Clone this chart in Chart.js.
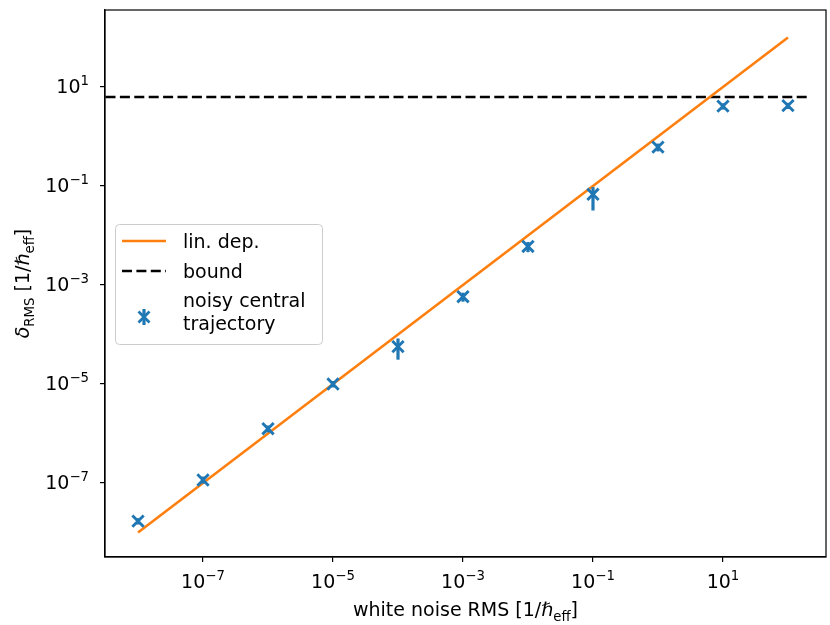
<!DOCTYPE html>
<html><head><meta charset="utf-8">
<script src="https://cdn.jsdelivr.net/npm/chart.js@4"></script>
<style>html,body{margin:0;padding:0;background:#fff}#wrap{width:830px;height:625px}</style>
</head><body><div id="wrap"><canvas id="c" width="830" height="625"></canvas></div>
<script>
// ---- data ----
const noiseRMS  = [1e-8, 1e-7, 1e-6, 1e-5, 1e-4, 1e-3, 1e-2, 1e-1, 1e0, 1e1, 1e2];
const deltaRMS  = [1.7e-8, 1.15e-7, 1.25e-6, 1.0e-5, 5.7e-5, 5.8e-4, 6.0e-3, 0.068, 0.61, 4.1, 4.2];
const deltaLow  = [1.45e-8, 0.97e-7, 1.05e-6, 0.85e-5, 3.1e-5, 4.6e-4, 4.6e-3, 0.032, 0.50, 3.5, 3.6];
const deltaHigh = [1.95e-8, 1.35e-7, 1.45e-6, 1.15e-5, 8.3e-5, 7.0e-4, 7.4e-3, 0.095, 0.72, 4.7, 4.8];
const linX = [1e-8, 1e2];
const linY = [1e-8, 1e2];
const boundX = [3.16e-9, 2.0e2];
const boundY = [6.28, 6.28];
const xTicks = [1e-7, 1e-5, 1e-3, 1e-1, 1e1];
const yTicks = [1e-7, 1e-5, 1e-3, 1e-1, 1e1];
const xTickExp = ['\u22127', '\u22125', '\u22123', '\u22121', '1'];
const yTickExp = ['\u22127', '\u22125', '\u22123', '\u22121', '1'];
const labels = ['lin. dep.', 'bound', 'noisy central\ntrajectory'];

const FONT = "'DejaVu Sans', sans-serif";
const FS = 19;
const BLUE = '#1f77b4', ORANGE = '#ff7f0e';

function toPts(xs, ys){ return xs.map((v,i)=>({x:v, y:ys[i]})); }

function measureParts(ctx, parts){
  let w = 0;
  parts.forEach(p=>{
    const sz = p.s ? FS*0.7 : FS;
    ctx.font = (p.it?'italic ':'') + sz + 'px ' + FONT;
    p.w = ctx.measureText(p.t).width; w += p.w;
  });
  return w;
}
function drawParts(ctx, parts, x, y){
  let cx = x;
  parts.forEach(p=>{
    const sz = p.s ? FS*0.7 : FS;
    ctx.font = (p.it?'italic ':'') + sz + 'px ' + FONT;
    const dy = p.s === 1 ? -8 : (p.s === -1 ? 4.5 : 0);
    ctx.textAlign = 'left'; ctx.textBaseline = 'alphabetic';
    ctx.fillText(p.t, cx, y + dy);
    cx += p.w;
  });
}

const errPlugin = {
  id: 'errbars',
  beforeDatasetDraw(chart, args){
    if (args.index !== 2) return;
    const {ctx, scales:{x, y}} = chart;
    ctx.save();
    ctx.strokeStyle = BLUE; ctx.lineWidth = 3.2; ctx.lineCap = 'butt';
    noiseRMS.forEach((v,i)=>{
      const px = x.getPixelForValue(v);
      ctx.beginPath();
      ctx.moveTo(px, y.getPixelForValue(deltaLow[i]));
      ctx.lineTo(px, y.getPixelForValue(deltaHigh[i]));
      ctx.stroke();
    });
    ctx.restore();
  }
};

const decoPlugin = {
  id: 'deco',
  afterDraw(chart){
    const {ctx, chartArea:a, scales:{x, y}} = chart;
    ctx.save();
    ctx.strokeStyle = '#000'; ctx.lineWidth = 1.2;
    ctx.strokeRect(a.left, a.top, a.right - a.left, a.bottom - a.top);
    ctx.fillStyle = '#000';
    xTicks.forEach((v,i)=>{
      const parts = [{t:'10', s:0}, {t:xTickExp[i], s:1}];
      const w = measureParts(ctx, parts);
      drawParts(ctx, parts, x.getPixelForValue(v) - w/2, a.bottom + 31);
    });
    yTicks.forEach((v,i)=>{
      const parts = [{t:'10', s:0}, {t:yTickExp[i], s:1}];
      const w = measureParts(ctx, parts);
      drawParts(ctx, parts, a.left - 16 - w, y.getPixelForValue(v) + 6);
    });
    const xt = [{t:'white noise RMS [1/\u210F', s:0}, {t:'eff', s:-1}, {t:']', s:0}];
    const xw = measureParts(ctx, xt);
    drawParts(ctx, xt, (a.left + a.right)/2 - xw/2, 616);
    const yt = [{t:'\u03B4', s:0, it:true}, {t:'RMS', s:-1}, {t:' [1/\u210F', s:0}, {t:'eff', s:-1}, {t:']', s:0}];
    const yw = measureParts(ctx, yt);
    ctx.save();
    ctx.translate(29, (a.top + a.bottom)/2);
    ctx.rotate(-Math.PI/2);
    drawParts(ctx, yt, -yw/2, 0);
    ctx.restore();

    // legend
    const lx = 115, ly = 224, lw = 207, lh = 120;
    ctx.beginPath();
    ctx.roundRect(lx + 0.5, ly + 0.5, lw, lh, 4);
    ctx.fillStyle = 'rgba(255,255,255,0.8)'; ctx.fill();
    ctx.strokeStyle = '#cccccc'; ctx.lineWidth = 1; ctx.stroke();
    ctx.strokeStyle = ORANGE; ctx.lineWidth = 2.6; ctx.setLineDash([]);
    ctx.beginPath(); ctx.moveTo(122, 241); ctx.lineTo(166, 241); ctx.stroke();
    ctx.strokeStyle = '#000'; ctx.setLineDash([10, 4.4]);
    ctx.beginPath(); ctx.moveTo(122, 271); ctx.lineTo(166, 271); ctx.stroke();
    ctx.setLineDash([]);
    ctx.strokeStyle = BLUE; ctx.lineWidth = 3.2;
    ctx.beginPath(); ctx.moveTo(144, 309); ctx.lineTo(144, 325); ctx.stroke();
    ctx.lineWidth = 2.8;
    const r = 5.5;
    ctx.beginPath();
    ctx.moveTo(144 - r, 317 - r); ctx.lineTo(144 + r, 317 + r);
    ctx.moveTo(144 - r, 317 + r); ctx.lineTo(144 + r, 317 - r);
    ctx.stroke();
    ctx.fillStyle = '#000'; ctx.font = FS + 'px ' + FONT;
    ctx.textAlign = 'left'; ctx.textBaseline = 'alphabetic';
    ctx.fillText(labels[0], 183, 248);
    ctx.fillText(labels[1], 183, 278);
    const lines = labels[2].split('\n');
    ctx.fillText(lines[0], 183, 307);
    ctx.fillText(lines[1], 183, 330);
    ctx.restore();
  }
};

const axisCommon = {
  type: 'logarithmic',
  grid: { display: true, drawOnChartArea: false, drawTicks: true, tickLength: 5, color: '#000', lineWidth: 1.2 },
  border: { display: true, color: '#000', width: 1.2 },
  ticks: { display: false },
  title: { display: false }
};

new Chart(document.getElementById('c'), {
  data: {
    datasets: [
      { type: 'line', label: labels[0], data: toPts(linX, linY), borderColor: ORANGE, borderWidth: 2.6,
        pointRadius: 0, fill: false, tension: 0, order: 1 },
      { type: 'line', label: labels[1], data: toPts(boundX, boundY), borderColor: '#000', borderWidth: 2.6,
        borderDash: [10, 4.4], pointRadius: 0, fill: false, order: 2 },
      { type: 'scatter', label: labels[2], data: toPts(noiseRMS, deltaRMS), pointStyle: 'crossRot',
        pointRadius: 8, pointBorderWidth: 2.9, borderColor: BLUE, backgroundColor: BLUE, borderWidth: 2.9, order: 0 }
    ]
  },
  options: {
    responsive: false, animation: false, devicePixelRatio: 1,
    layout: { autoPadding: false, padding: { left: 0, top: 10, right: 4, bottom: 0 } },
    plugins: { legend: { display: false }, tooltip: { enabled: false } },
    scales: {
      x: Object.assign({}, axisCommon, {
        position: 'bottom',
        min: Math.pow(10, -8.508), max: Math.pow(10, 2.585),
        afterBuildTicks: s => { s.ticks = xTicks.map(v => ({ value: v })); },
        afterFit: s => { s.height = 68; }
      }),
      y: Object.assign({}, axisCommon, {
        position: 'left',
        min: Math.pow(10, -8.495), max: Math.pow(10, 2.556),
        afterBuildTicks: s => { s.ticks = yTicks.map(v => ({ value: v })); },
        afterFit: s => { s.width = 105; }
      })
    }
  },
  plugins: [errPlugin, decoPlugin]
});
</script>
</body></html>
